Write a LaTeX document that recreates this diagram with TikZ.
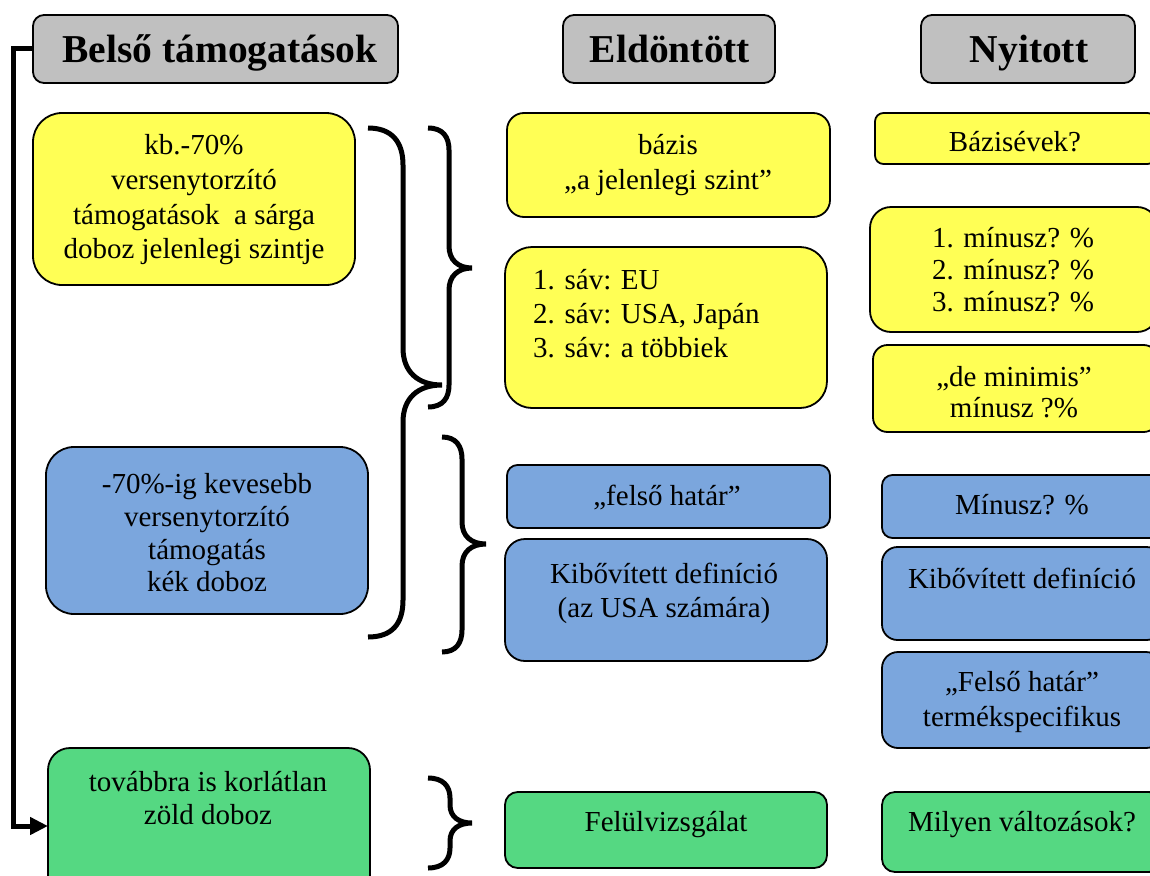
\documentclass[tikz,border=0pt]{standalone}
\usepackage{fontspec}
\setmainfont{Liberation Serif}
\usetikzlibrary{arrows.meta}
\definecolor{cY}{RGB}{255,255,85}
\definecolor{cB}{RGB}{123,166,221}
\definecolor{cG}{RGB}{85,216,130}
\definecolor{cT}{RGB}{192,192,192}
\newcommand\topstr{\rule{0pt}{20pt}}
\newcommand\botstr{\rule[-6.4pt]{0pt}{6.4pt}}
\newcommand\mkbox[7]{\node[rbox=#6, fill=#7, minimum width={#4-#2}, minimum height={#5-#3}] (#1) at ({(#2+#4)/2},{(#3+#5)/2}) {};}
\newcommand\bsk[1]{\fontsize{29}{#1}\selectfont}
\begin{document}
\begin{tikzpicture}[x=1pt,y=-1pt,
  rbox/.style={draw=black, line width=1.8pt, inner sep=0pt, outer sep=0pt, rounded corners=#1},
  txt/.style={inner sep=0pt, align=center, font=\bsk{34}},
  ttl/.style={inner sep=0pt, font=\bfseries\fontsize{39.5}{44}\selectfont, text height=28pt, text depth=9pt},
  brc/.style={line width=5pt},
  conn/.style={line width=5pt, -{Triangle[length=18pt,width=17pt]}}]
\useasboundingbox (0,0) rectangle (1150,875);
\clip (0,0) rectangle (1150,875);

% title boxes
\mkbox{T1}{33}{15}{398}{83}{11}{cT}
\mkbox{T2}{563}{15}{775}{83}{11}{cT}
\mkbox{T3}{921}{15}{1135}{83}{11}{cT}
\node[ttl] (T1t) at (220,53.5) {Belső támogatások};
\node[ttl] (T2t) at (670,53.5) {Eldöntött};
\node[ttl] (T3t) at (1029,53.5) {Nyitott};

% left column
\mkbox{L1}{33}{113}{355}{285}{29}{cY}
\mkbox{L2}{46}{447}{368}{614}{28}{cB}
\mkbox{L3}{48}{748}{370}{900}{22}{cG}
\node[txt, font=\bsk{34.7}] (L1t) at (194,200) {\topstr kb.-70\%\\versenytorzító\\támogatások\ \ a sárga\\doboz jelenlegi szintje\botstr};
\node[txt, font=\bsk{32.7}] (L2t) at (207,536) {\topstr -70\%-ig kevesebb\\versenytorzító\\támogatás\\kék doboz\botstr};
\node[txt, font=\bsk{33}] (L3t) at (208,801.5) {\topstr továbbra is korlátlan\\zöld doboz\botstr};

% middle column
\mkbox{M1}{507}{113}{830}{217}{17}{cY}
\mkbox{M2}{505}{247}{827}{408}{27}{cY}
\mkbox{M3}{507}{465}{830}{528}{10.5}{cB}
\mkbox{M4}{505}{539}{827}{661}{20}{cB}
\mkbox{M5}{505}{792}{827}{868}{12.7}{cG}
\node[txt, font=\bsk{35}] (M1t) at (668,165.5) {\topstr bázis\\„a jelenlegi szint”\botstr};
\node[txt, align=left, anchor=west, font=\bsk{34}] (M2t) at (533,317) {\topstr 1. sáv: EU\\2. sáv: USA, Japán\\3. sáv: a többiek\botstr};
\node[txt] (M3t) at (667,498) {\topstr „felső határ”\botstr};
\node[txt, font=\bsk{34}] (M4t) at (664,593) {\topstr Kibővített definíció\\(az USA számára)\botstr};
\node[txt] (M5t) at (666,825) {\topstr Felülvizsgálat\botstr};

% right column
\mkbox{R1}{875}{113}{1156}{164}{8.5}{cY}
\mkbox{R2}{870}{207}{1158}{332}{21}{cY}
\mkbox{R3}{873}{345}{1158}{432}{14.5}{cY}
\mkbox{R4}{882}{475}{1162}{538}{10.5}{cB}
\mkbox{R5}{882}{547}{1162}{640}{15.5}{cB}
\mkbox{R6}{882}{652}{1162}{748}{16}{cB}
\mkbox{R7}{882}{792}{1162}{872}{13}{cG}
\node[txt] (R1t) at (1015,145) {\topstr Bázisévek?\botstr};
\node[txt, font=\bsk{32}] (R2t) at (1013,273) {\topstr 1. mínusz? \%\\2. mínusz? \%\\3. mínusz? \%\botstr};
\node[txt, font=\bsk{31}] (R3t) at (1014,395.5) {\topstr „de minimis”\\mínusz ?\%\botstr};
\node[txt] (R4t) at (1022,508) {\topstr Mínusz? \%\botstr};
\node[txt] (R5t) at (1022,581) {\topstr Kibővített definíció\botstr};
\node[txt, font=\bsk{35}] (R6t) at (1022,702.5) {\topstr „Felső határ”\\termékspecifikus\botstr};
\node[txt] (R7t) at (1022,825) {\topstr Milyen változások?\botstr};

% braces
\draw[brc] (368,128) .. controls (392,128) and (403,142) .. (403,165) -- (403,348)
  .. controls (403,372) and (418,385) .. (442,385)
  .. controls (418,385) and (403,398) .. (403,422) -- (403,600)
  .. controls (403,624) and (392,637) .. (368,637);
\draw[brc] (428,128) .. controls (443,128) and (449,137) .. (449,150) -- (449,246)
  .. controls (449,260) and (458,268) .. (472,268)
  .. controls (458,268) and (449,276) .. (449,290) -- (449,385)
  .. controls (449,398) and (443,407) .. (428,407);
\draw[brc] (442,437) .. controls (456,437) and (462,446) .. (462,459) -- (462,522)
  .. controls (462,536) and (471,544) .. (486,544)
  .. controls (471,544) and (462,552) .. (462,566) -- (462,630)
  .. controls (462,643) and (456,652) .. (442,652);
\draw[brc] (428,778) .. controls (443,778) and (450,786) .. (450,798) -- (450,805)
  .. controls (450,817) and (459,823) .. (472,823)
  .. controls (459,823) and (450,829) .. (450,841) -- (450,848)
  .. controls (450,860) and (443,868) .. (428,868);

% connector
\coordinate (lc) at (13,826);
\draw[conn] (T1.west) -| (lc) -- (lc -| L3.west);
\end{tikzpicture}
\end{document}
